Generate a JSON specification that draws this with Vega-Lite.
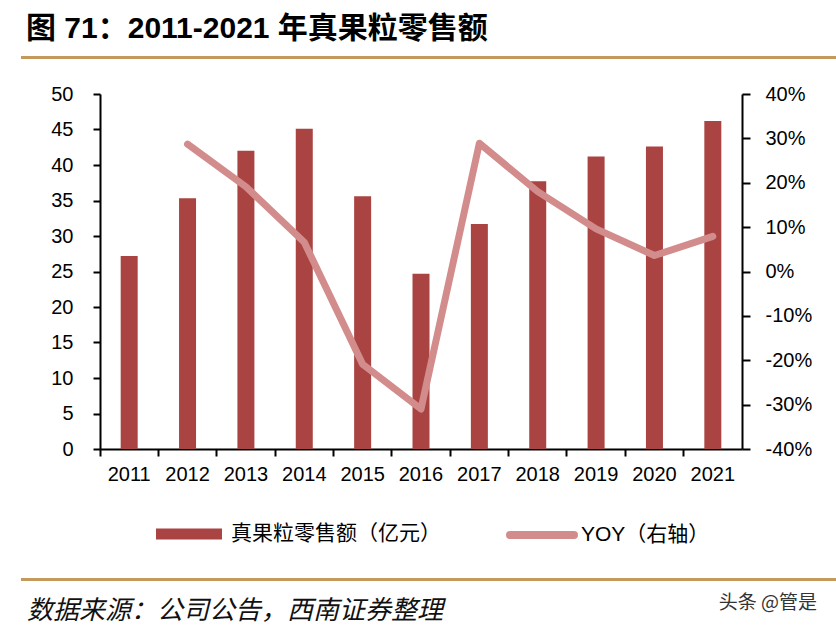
{
  "$schema": "https://vega.github.io/schema/vega-lite/v6.json",
  "padding": {"left": 21, "top": 12, "right": 0, "bottom": 0},
  "background": "white",
  "spacing": 20,
  "config": {"view": {"stroke": null}, "font": "Liberation Sans, Noto Sans CJK SC"},
  "vconcat": [
    {
      "width": 814,
      "height": 1,
      "view": {"stroke": "#C49A5C", "strokeWidth": 2},
      "title": {
        "text": "图 71：2011-2021 年真果粒零售额",
        "anchor": "start",
        "frame": "bounds",
        "font": "Liberation Sans, Noto Sans CJK SC",
        "fontSize": 30,
        "fontWeight": "bold",
        "color": "#000000",
        "offset": 8,
        "dx": 4
      },
      "data": {"values": [{"t": ""}]},
      "mark": {"type": "text"},
      "encoding": {"text": {"field": "t"}}
    },
    {
      "spacing": 0,
      "hconcat": [
        {
          "width": 1,
          "height": 1,
          "view": {"fill": "white", "stroke": null},
          "data": {"values": [{"t": ""}]},
          "mark": {"type": "text"},
          "encoding": {"text": {"field": "t"}}
        },
        {
          "width": 642,
          "height": 355,
          "data": {
            "values": [
              {"year": "2011", "sales": 27.2, "yoy": null},
              {"year": "2012", "sales": 35.3, "yoy": 0.287},
              {"year": "2013", "sales": 42.0, "yoy": 0.191},
              {"year": "2014", "sales": 45.1, "yoy": 0.066},
              {"year": "2015", "sales": 35.6, "yoy": -0.209},
              {"year": "2016", "sales": 24.7, "yoy": -0.31},
              {"year": "2017", "sales": 31.7, "yoy": 0.289},
              {"year": "2018", "sales": 37.7, "yoy": 0.18},
              {"year": "2019", "sales": 41.2, "yoy": 0.096},
              {"year": "2020", "sales": 42.6, "yoy": 0.036},
              {"year": "2021", "sales": 46.2, "yoy": 0.079}
            ]
          },
          "layer": [
            {
              "mark": {"type": "bar", "size": 17},
              "encoding": {
                "x": {
                  "field": "year",
                  "type": "ordinal",
                  "scale": {"paddingInner": 0, "paddingOuter": 0},
                  "axis": {
                    "title": " ",
                    "titleFontSize": 10,
                    "titlePadding": 64,
                    "labelAngle": 0,
                    "bandPosition": 0,
                    "tickSize": 7,
                    "tickWidth": 2,
                    "tickColor": "#000000",
                    "domainColor": "#000000",
                    "domainWidth": 2,
                    "labelFont": "Liberation Sans",
                    "labelFontSize": 20,
                    "labelColor": "#000000",
                    "labelPadding": 8,
                    "grid": false
                  }
                },
                "y": {
                  "field": "sales",
                  "type": "quantitative",
                  "scale": {"domain": [0, 50]},
                  "axis": {
                    "title": null,
                    "values": [0, 5, 10, 15, 20, 25, 30, 35, 40, 45, 50],
                    "tickSize": 7,
                    "tickWidth": 2,
                    "tickColor": "#000000",
                    "domainColor": "#000000",
                    "domainWidth": 2,
                    "labelFont": "Liberation Sans",
                    "labelFontSize": 20,
                    "labelColor": "#000000",
                    "labelPadding": 20,
                    "minExtent": 77,
                    "grid": false
                  }
                },
                "fill": {
                  "datum": "真果粒零售额（亿元）",
                  "scale": {"range": ["#A94442"]},
                  "legend": {
                    "orient": "none",
                    "legendX": 134,
                    "legendY": 444,
                    "title": null,
                    "symbolType": "M-1,-0.17H1V0.17H-1Z",
                    "symbolSize": 4356,
                    "symbolStrokeWidth": 0,
                    "labelFont": "Noto Sans CJK SC",
                    "labelFontSize": 21,
                    "labelColor": "#000000",
                    "labelOffset": 9,
                    "labelLimit": 400
                  }
                }
              }
            },
            {
              "mark": {"type": "line", "strokeWidth": 7, "strokeCap": "round", "strokeJoin": "round"},
              "encoding": {
                "x": {"field": "year", "type": "ordinal"},
                "y": {
                  "field": "yoy",
                  "type": "quantitative",
                  "scale": {"domain": [-0.4, 0.4]},
                  "axis": {
                    "orient": "right",
                    "title": null,
                    "format": ".0%",
                    "labelExpr": "replace(datum.label, '−', '-')",
                    "values": [-0.4, -0.3, -0.2, -0.1, 0, 0.1, 0.2, 0.3, 0.4],
                    "tickSize": 8,
                    "tickWidth": 2,
                    "tickColor": "#000000",
                    "domainColor": "#000000",
                    "domainWidth": 2,
                    "labelFont": "Liberation Sans",
                    "labelFontSize": 20,
                    "labelColor": "#000000",
                    "labelPadding": 15,
                    "grid": false
                  }
                },
                "stroke": {
                  "datum": "YOY（右轴）",
                  "scale": {"range": ["#D38C8C"]},
                  "legend": {
                    "orient": "none",
                    "legendX": 484,
                    "legendY": 442,
                    "title": null,
                    "symbolType": "M-1,0H1",
                    "symbolSize": 4096,
                    "symbolStrokeWidth": 8,
                    "labelFont": "Liberation Sans, Noto Sans CJK SC",
                    "labelFontSize": 21,
                    "labelColor": "#000000",
                    "labelOffset": 3,
                    "labelLimit": 400,
                    "encode": {"symbols": {"update": {"strokeCap": {"value": "round"}}}}
                  }
                }
              }
            }
          ],
          "resolve": {"scale": {"y": "independent"}}
        }
      ]
    },
    {
      "width": 814,
      "height": 1,
      "view": {"stroke": "#C49A5C", "strokeWidth": 2},
      "data": {"values": [{"src": "数据来源：公司公告，西南证券整理", "wm": "头条 @管是"}]},
      "layer": [
        {
          "mark": {"type": "text", "align": "left", "baseline": "middle", "dx": 5, "dy": 31, "fontSize": 26, "fontStyle": "italic", "font": "Noto Sans CJK SC", "color": "#111111"},
          "encoding": {
            "x": {"datum": 0, "type": "quantitative", "scale": {"domain": [0, 1]}, "axis": null},
            "text": {"field": "src"}
          }
        },
        {
          "mark": {"type": "text", "align": "right", "baseline": "middle", "dx": -19, "dy": 23, "fontSize": 19, "font": "Noto Sans CJK SC", "color": "#333333"},
          "encoding": {
            "x": {"datum": 1, "type": "quantitative"},
            "text": {"field": "wm"}
          }
        }
      ]
    }
  ]
}
